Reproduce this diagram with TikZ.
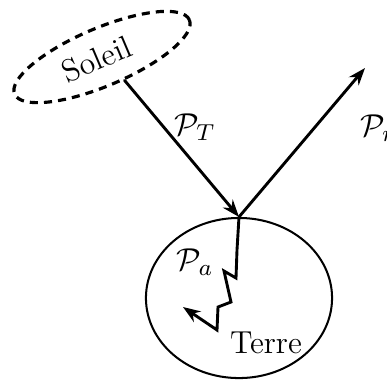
\documentclass[tikz,border=0pt]{standalone}
\usepackage{amssymb}
\usepackage{xcolor}
\usepackage{tikz}
\usetikzlibrary{arrows.meta,calc,positioning,shapes.geometric}
\tikzset{
  ray/.style={line width=1.0pt, line cap=round, line join=round, -{Stealth[length=6pt, width=4.4pt]}},
  walk/.style={line width=1.0pt, line join=miter, -{Stealth[length=6pt, width=4.4pt]}},
  sun/.style={
    ellipse,
    draw=black,
    line width=1.1pt,
    dash pattern=on 2.8pt off 2.1pt,
    inner sep=0pt,
    minimum width=65.7pt,
    minimum height=20pt,
    font=\fontsize{11}{13}\selectfont,
    rotate=23
  },
  planet/.style={
    ellipse,
    draw=black,
    line width=0.7pt,
    inner sep=0pt,
    minimum width=64.4pt,
    minimum height=55.4pt
  },
  label/.style={font=\fontsize{11}{13}\selectfont, inner sep=1pt}
}

\begin{document}
\begin{tikzpicture}[x=0.346pt,y=-0.346pt]
\path[use as bounding box] (0,0) rectangle (387,380);
\fill[white] (0,0) rectangle (387,380);

\node[sun] (soleil) at (102,57) {\hspace*{-4pt}Soleil};
\node[planet] (terre) at (239,298) {};
\node[label] (terretext) at (266,343) {Terre};
\coordinate (sortie) at (365,68);

\draw[ray] (soleil.-69) -- (terre.north);
\draw[ray] (terre.north) -- (sortie);
\draw[walk] (terre.north) -- (237,250) -- (236,278) -- (224,271) -- (231,302)
  -- (218,307) -- (217,330) -- (183,307);

\node[label] (pt) at (195,127) {$\mathcal{P}_T$};
\node[label] (pr) at (378,128) {$\mathcal{P}_r$};
\node[label] (pa) at (195,262) {$\mathcal{P}_a$};
\end{tikzpicture}
\end{document}
